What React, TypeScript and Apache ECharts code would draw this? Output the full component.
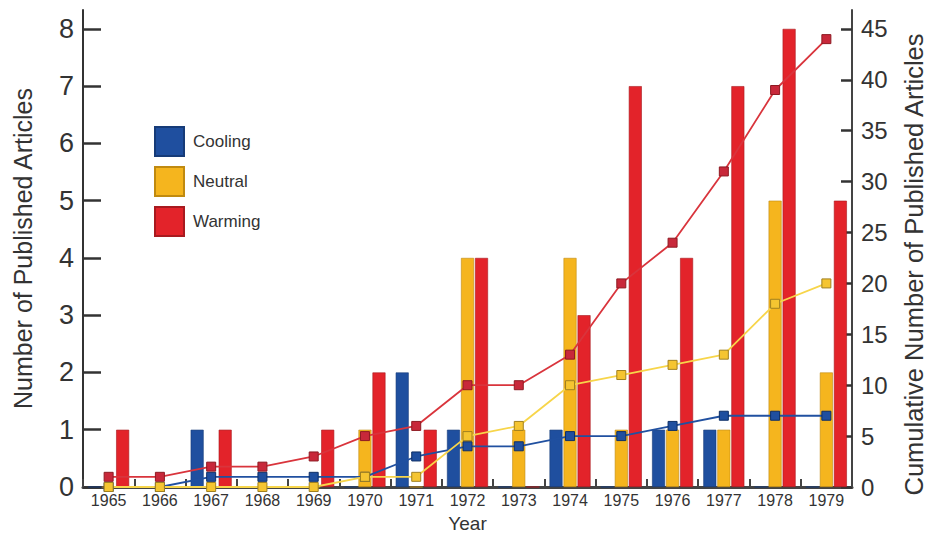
import React, { useEffect, useRef } from "react";
import * as echarts from "echarts";

const years = ["1965","1966","1967","1968","1969","1970","1971","1972","1973","1974","1975","1976","1977","1978","1979"];
const cooling = [0, 0, 1, 0, 0, 0, 2, 1, 0, 1, 0, 1, 1, 0, 0];
const neutral = [0, 0, 0, 0, 0, 1, 0, 4, 1, 4, 1, 1, 1, 5, 2];
const warming = [1, 0, 1, 0, 1, 2, 1, 4, 0, 3, 7, 4, 7, 8, 5];
const coolingCum = [0, 0, 1, 1, 1, 1, 3, 4, 4, 5, 5, 6, 7, 7, 7];
const neutralCum = [0, 0, 0, 0, 0, 1, 1, 5, 6, 10, 11, 12, 13, 18, 20];
const warmingCum = [1, 1, 2, 2, 3, 5, 6, 10, 10, 13, 20, 24, 31, 39, 44];

const FONT = "Liberation Sans, Arial, sans-serif";
const BLUE = "#1f4f9f";
const YELLOW = "#f5b51e";
const RED = "#e3232a";
const TICK = "#333333";

export default function App() {
  const ref = useRef<HTMLDivElement>(null);
  useEffect(() => {
    if (!ref.current) return;
    const chart = echarts.init(ref.current, null, { renderer: "svg" });
    const barSeries = (name: string, data: number[], color: string, border: string) => ({
      name,
      type: "bar",
      data,
      yAxisIndex: 0,
      barGap: "8%",
      barCategoryGap: "20%",
      itemStyle: { color, borderColor: border, borderWidth: 0.6 },
      z: 2,
    });
    const lineSeries = (name: string, data: number[], lineColor: string, fill: string, border: string) => ({
      name,
      type: "line",
      data,
      yAxisIndex: 1,
      symbol: "rect",
      symbolSize: 9,
      lineStyle: { color: lineColor, width: 1.8 },
      itemStyle: { color: fill, borderColor: border, borderWidth: 1 },
      z: 5,
    });
    chart.setOption({
      animation: false,
      backgroundColor: "#ffffff",
      textStyle: { fontFamily: FONT },
      grid: { left: 83, right: 83, top: 10, bottom: 48, show: false, containLabel: false, outerBoundsMode: "none" },
      legend: {
        data: ["Cooling", "Neutral", "Warming"],
        orient: "vertical",
        left: 154,
        top: 126,
        padding: 0,
        itemWidth: 29,
        itemHeight: 29,
        itemGap: 9,
        icon: "rect",
        textStyle: { fontFamily: FONT, fontSize: 17, color: "#333", padding: [0, 0, 0, 4] },
      },
      xAxis: [
        {
          type: "category",
          data: years,
          name: "Year",
          nameLocation: "middle",
          nameGap: 27,
          nameTextStyle: { fontFamily: FONT, fontSize: 19, color: "#333" },
          axisLine: { lineStyle: { color: "#333", width: 2 } },
          axisTick: { show: true, inside: true, length: 8, lineStyle: { color: "#444444", width: 2 } },
          axisLabel: { fontFamily: FONT, fontSize: 16, color: "#333", margin: 5 },
        },
        {
          type: "category",
          data: years,
          position: "top",
          axisLine: { lineStyle: { color: "#444", width: 3 } },
          axisTick: { show: false },
          axisLabel: { show: false },
        },
      ],
      yAxis: [
        {
          type: "value",
          min: 0,
          max: 8.33,
          interval: 1,
          name: "Number of Published Articles",
          nameLocation: "middle",
          nameGap: 48,
          nameTextStyle: { fontFamily: FONT, fontSize: 25, color: "#333" },
          splitLine: { show: false },
          axisLine: { show: true, lineStyle: { color: "#333", width: 2 } },
          axisTick: { show: true, inside: true, length: 18, lineStyle: { color: TICK, width: 2.5 } },
          axisLabel: {
            fontFamily: FONT,
            fontSize: 27,
            color: "#333",
            margin: 9,
            showMaxLabel: false,
            formatter: (v: number) => (Number.isInteger(v) ? String(v) : ""),
          },
        },
        {
          type: "value",
          min: 0,
          max: 46.86,
          interval: 5,
          name: "Cumulative Number of Published Articles",
          nameLocation: "middle",
          nameGap: 49,
          nameTextStyle: { fontFamily: FONT, fontSize: 25.5, color: "#333", padding: [0, 32, 0, 0] },
          splitLine: { show: false },
          axisLine: { show: true, lineStyle: { color: "#444", width: 2 } },
          axisTick: { show: true, inside: true, length: 11, lineStyle: { color: TICK, width: 2.5 } },
          axisLabel: {
            fontFamily: FONT,
            fontSize: 24,
            color: "#333",
            margin: 9,
            showMaxLabel: false,
            formatter: (v: number) => (Number.isInteger(v) ? String(v) : ""),
          },
        },
      ],
      series: [
        barSeries("Cooling", cooling, BLUE, "#163b78"),
        barSeries("Neutral", neutral, YELLOW, "#c08a10"),
        barSeries("Warming", warming, RED, "#a81a1f"),
        lineSeries("Cooling cumulative", coolingCum, "#2050a0", "#1f4f9f", "#0e2f66"),
        lineSeries("Neutral cumulative", neutralCum, "#f7d54a", "#f5c531", "#a08020"),
        lineSeries("Warming cumulative", warmingCum, "#d9343c", "#c8283a", "#8e1a22"),
      ],
    });
    return () => chart.dispose();
  }, []);
  return <div ref={ref} style={{ position: "absolute", left: 0, top: 0, width: 935, height: 535 }} />;
}
